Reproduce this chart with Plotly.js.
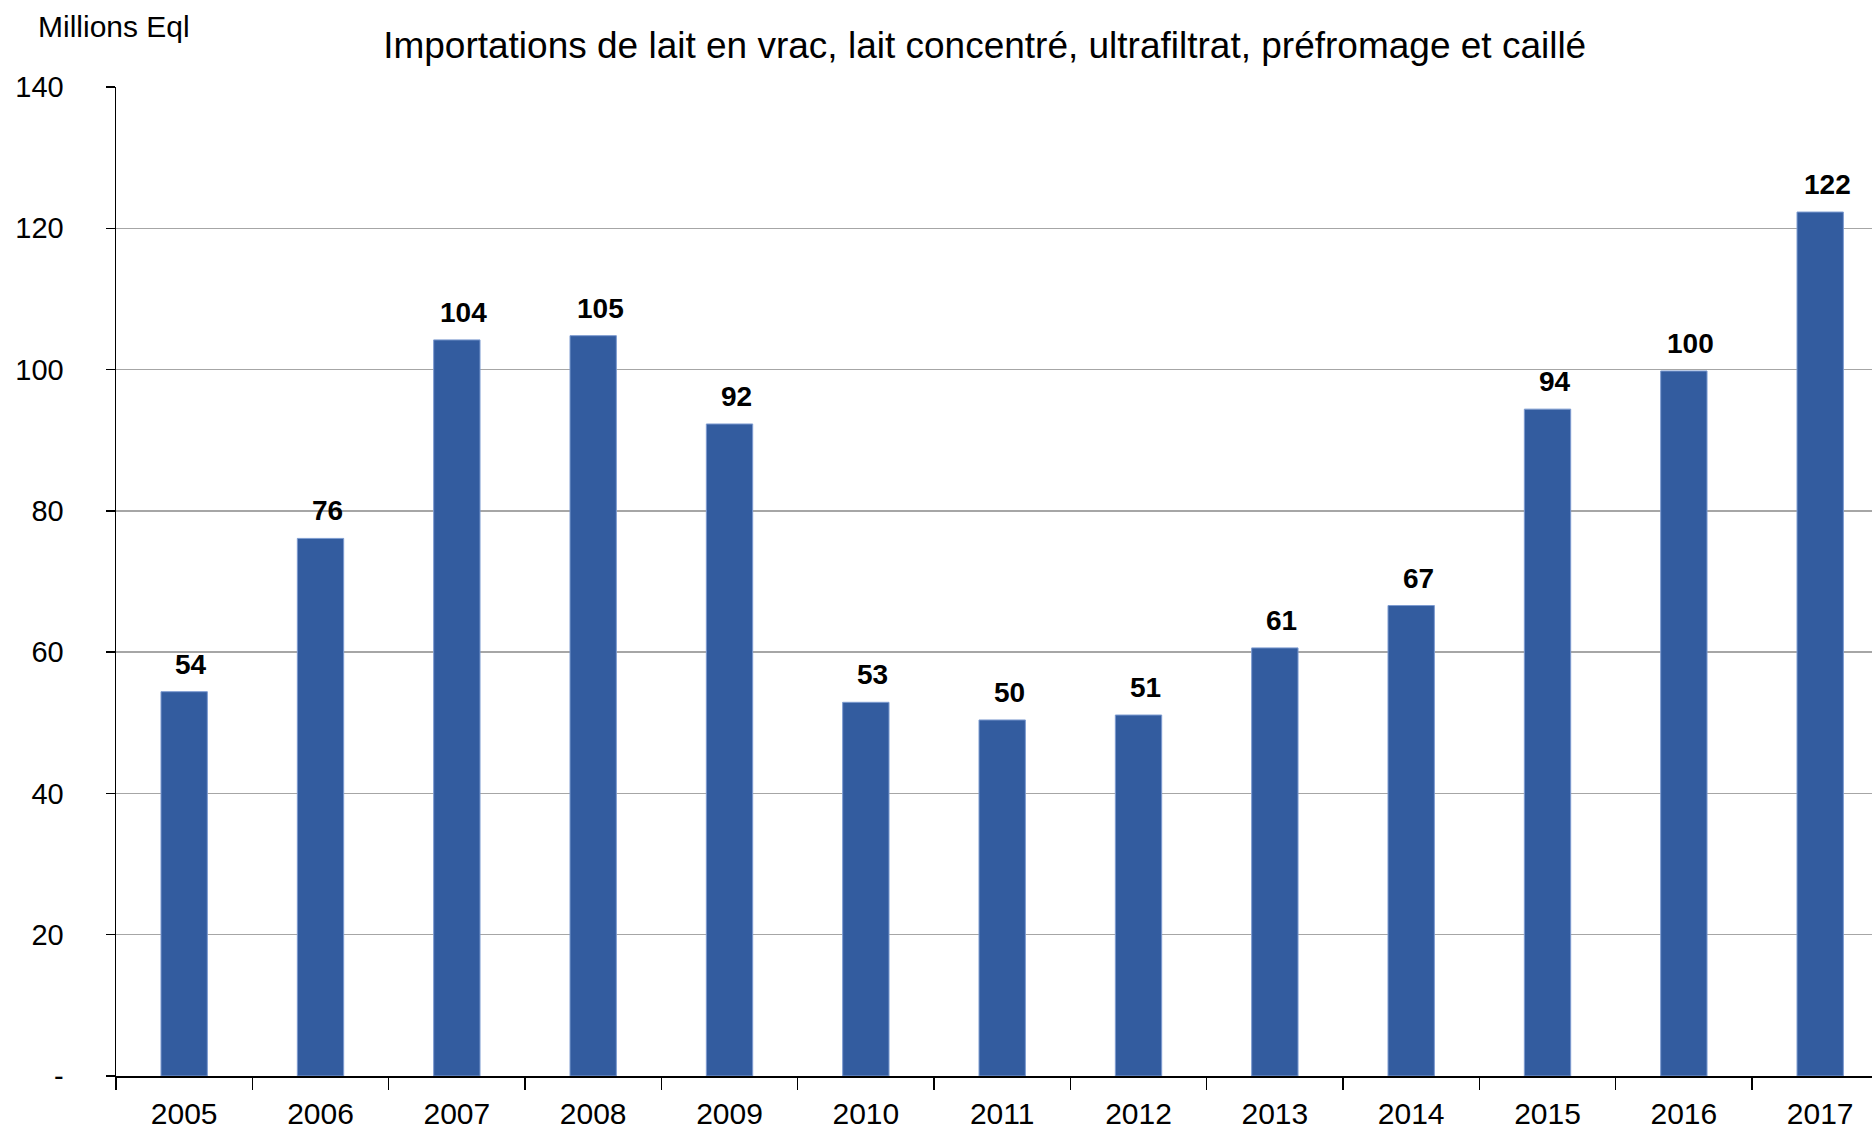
<!DOCTYPE html>
<html>
<head>
<meta charset="utf-8">
<script src="https://cdn.plot.ly/plotly-3.0.1.min.js"></script>
<style>html,body{margin:0;padding:0;background:#fff;overflow:hidden}#chart{width:1872px;height:1128px}</style>
</head>
<body>
<div id="chart"></div>
<script>
const years = ['2005','2006','2007','2008','2009','2010','2011','2012','2013','2014','2015','2016','2017'];
const imports = [54.4, 76.1, 104.2, 104.8, 92.3, 52.9, 50.4, 51.1, 60.6, 66.6, 94.4, 99.8, 122.3];
const valueLabels = ['54','76','104','105','92','53','50','51','61','67','94','100','122'];
const yTickVals = [0, 20, 40, 60, 80, 100, 120, 140];
const yTickText = ['-', '20', '40', '60', '80', '100', '120', '140'];
const chartTitle = 'Importations de lait en vrac, lait concentré, ultrafiltrat, préfromage et caillé';
const unitLabel = 'Millions Eql';

const font = 'Liberation Sans, Arial, sans-serif';

const trace = {
  type: 'bar',
  x: years,
  y: imports,
  marker: {color: '#335c9f', line: {color: '#7d9bd0', width: 1}},
  hoverinfo: 'x+y'
};

const annotations = years.map((yr, i) => ({
  x: i, y: imports[i], xref: 'x', yref: 'y',
  text: '<b>' + valueLabels[i] + '</b>',
  showarrow: false, yanchor: 'bottom', xanchor: 'center',
  yshift: 10, xshift: 7,
  font: {family: font, size: 28, color: '#000'}
}));
annotations.push({
  xref: 'paper', yref: 'paper', x: (36 - 116) / 1756, y: 1 + (87 - 26) / 989,
  xanchor: 'left', yanchor: 'middle',
  text: unitLabel, showarrow: false,
  font: {family: font, size: 30, color: '#000'}
});

const layout = {
  width: 1872, height: 1128,
  margin: {l: 116, r: 0, t: 87, b: 52},
  paper_bgcolor: '#fff', plot_bgcolor: '#fff',
  title: {text: chartTitle, x: 0.526, xref: 'container', xanchor: 'center', y: 1 - 45/1128, yref: 'container', yanchor: 'middle',
    font: {family: font, size: 37, color: '#000'}},
  bargap: 0.66,
  showlegend: false,
  xaxis: {
    type: 'category', range: [-0.5, 12.38],
    showline: true, linecolor: '#000', linewidth: 1.5,
    ticks: 'outside', tickson: 'boundaries', ticklen: 12, tickcolor: '#000', tickwidth: 1.5,
    showgrid: false, zeroline: false, ticklabelstandoff: 10,
    tickfont: {family: font, size: 30, color: '#000'}
  },
  yaxis: {
    range: [0, 140], tickvals: yTickVals, ticktext: yTickText,
    showline: true, linecolor: '#000', linewidth: 1.5,
    ticks: 'outside', ticklen: 9, tickcolor: '#000', tickwidth: 1.5,
    showgrid: true, gridcolor: '#a6a6a6', gridwidth: 1.5,
    zeroline: false, ticklabelstandoff: 36,
    tickfont: {family: font, size: 29, color: '#000'}
  },
  annotations: annotations
};

Plotly.newPlot('chart', [trace], layout, {displayModeBar: false, staticPlot: true});
</script>
</body>
</html>
